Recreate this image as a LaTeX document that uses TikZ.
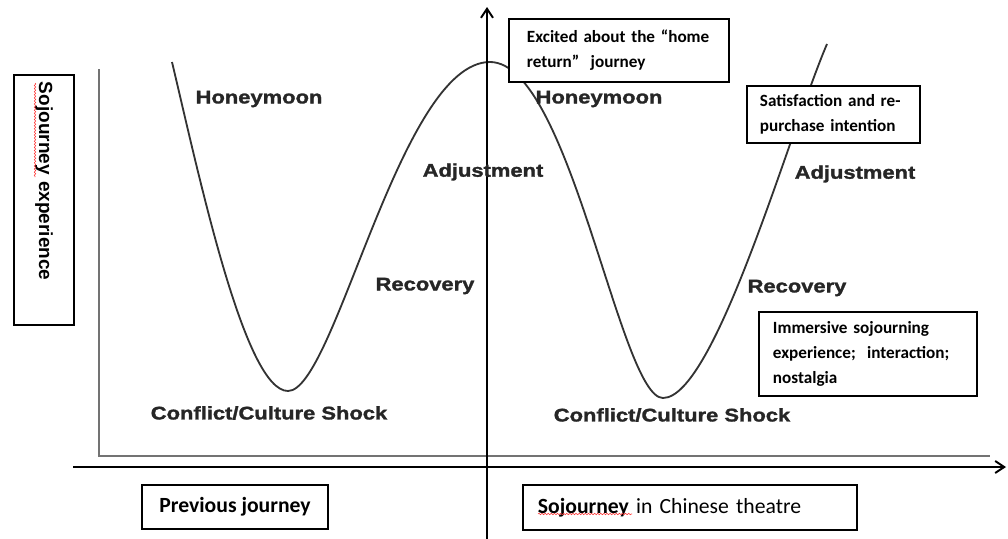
\documentclass[tikz,border=0pt]{standalone}
\usepackage{fontspec}
\setmainfont{Carlito}
\newfontfamily\labfont[FakeStretch=1.2,FakeBold=1.6]{Liberation Sans}
\newfontfamily\axfont{Liberation Sans}
\usetikzlibrary{arrows.meta,decorations.pathmorphing}

\tikzset{
  stage/.style={font=\labfont\bfseries\fontsize{13}{15}\selectfont, text=black!85},
  note/.style={draw, line width=0.9pt, fill=white, align=left,
    font=\bfseries\fontsize{12.2}{17.8}\selectfont},
  axis/.style={line width=1.4pt, -{Straight Barb[length=6.4pt,width=8.5pt]}},
  spell/.style={red!80, line width=0.4pt, decorate,
    decoration={snake, amplitude=0.5pt, segment length=2.2pt}}
}

\begin{document}
\begin{tikzpicture}[x=0.025cm,y=-0.025cm]
\useasboundingbox (0,0) rectangle (1008,539);

% frame of the plot
\draw[black!55, line width=1.4pt] (99,69) -- (99,456) -- (990,456);

% the W curve
\draw[black!80, line width=1.3pt] (172,62)
  .. controls (200,180) and (245,391) .. (288,391)
  .. controls (335,391) and (400,62) .. (490,62)
  .. controls (570,62) and (620,398) .. (663,398)
  .. controls (715,398) and (790,130) .. (827,44);

% axes
\coordinate (xl) at (73,467);
\coordinate (xr) at (1006,467);
\coordinate (yb) at (487,539);
\coordinate (yt) at (487,7);
\draw[axis] (xl) -- (xr);
\draw[axis] (yb) -- (yt);

% stages
\node[stage] (hm1) at (259,99) {Honeymoon};
\node[stage] (ad1) at (483,172) {Adjustment};
\node[stage] (rc1) at (425,286) {Recovery};
\node[stage] (cs1) at (269,413) {Conflict/Culture Shock};
\node[stage] (hm2) at (599,99) {Honeymoon};
\node[stage] (ad2) at (855,174) {Adjustment};
\node[stage] (rc2) at (797,288) {Recovery};
\node[stage] (cs2) at (672,415) {Conflict/Culture Shock};

% notes
\node[note, text width=4.6cm, inner xsep=0.45cm, minimum height=1.575cm]
  (excited) at (619,50.5) {Excited about the “home\\return”~ journey};
\node[note, text width=3.675cm, inner xsep=0.325cm, minimum height=1.425cm]
  (satisf) at (833.5,114.5) {Satisfaction and re-\\purchase intention};
\node[note, text width=4.75cm, inner xsep=0.35cm, minimum height=2.1cm]
  (immers) at (868,354) {Immersive sojourning\\experience;~ interaction;\\nostalgia};

% axis names
\node[note, rotate=-90, text width=5.9cm, inner xsep=0.175cm,
  minimum height=1.5cm, font=\axfont\bfseries\fontsize{13.5}{16}\selectfont]
  (sojexp) at (44,200) {Sojourney experience};
\node[note, align=center, minimum width=4.65cm, minimum height=1.1cm,
  font=\bfseries\fontsize{15.4}{18}\selectfont]
  (prevj) at (235,507) {Previous journey};
\node[note, text width=7.6cm, inner xsep=0.375cm, minimum height=1.125cm,
  font=\fontsize{15.4}{18}\selectfont]
  (chinese) at (690,507.5) {\textbf{Sojourney} in Chinese theatre};

% spelling marks
\draw[spell] (35,83) -- (35,177);
\draw[spell] (538,514) -- (632,514);

\end{tikzpicture}
\end{document}
